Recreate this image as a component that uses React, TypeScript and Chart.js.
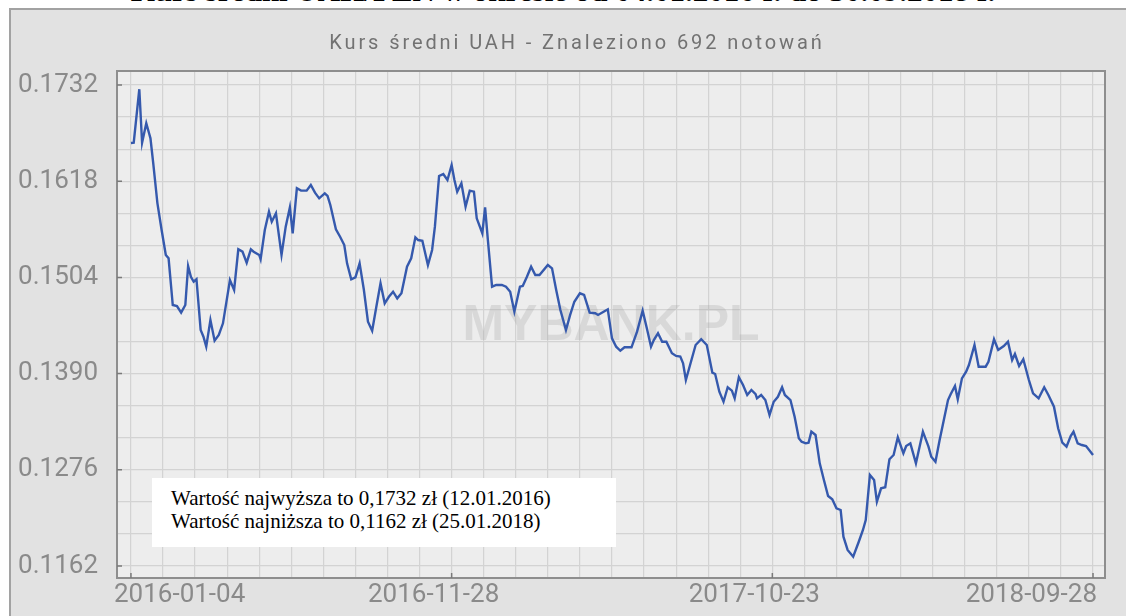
import React, { useEffect, useRef } from 'react';
import { Chart, registerables } from 'chart.js';

Chart.register(...registerables);

// ---- data ----
const pointIndex = [
  0, 2, 6, 8, 11, 13, 14, 16, 19, 22, 25, 27, 30, 33, 36, 39, 41, 43, 45, 47,
  50, 52, 54, 57, 60, 63, 66, 71, 74, 77, 80, 83, 86, 88, 92, 93, 96, 99, 101, 104,
  108, 111, 114, 116, 119, 122, 126, 129, 132, 135, 139, 141, 143, 147, 150, 153, 155, 158, 161, 164,
  167, 170, 173, 176, 179, 182, 185, 188, 191, 194, 198, 201, 204, 206, 209, 213, 216, 218, 221, 224,
  227, 230, 232, 234, 237, 240, 243, 246, 248, 252, 254, 256, 259, 262, 266, 269, 272, 275, 279, 281,
  284, 287, 290, 293, 299, 302, 305, 308, 312, 315, 318, 322, 325, 329, 333, 335, 339, 342, 345, 348,
  351, 354, 359, 363, 367, 370, 373, 375, 378, 381, 384, 388, 391, 394, 396, 398, 401, 405, 409, 413,
  417, 419, 422, 425, 428, 431, 433, 436, 439, 442, 445, 448, 449, 452, 455, 458, 461, 464, 467, 469,
  473, 476, 479, 481, 484, 486, 488, 491, 494, 497, 500, 503, 506, 509, 511, 514, 518, 522, 525, 527,
  530, 533, 535, 538, 541, 544, 547, 550, 554, 556, 559, 563, 568, 572, 574, 577, 580, 583, 586, 588,
  591, 593, 596, 599, 601, 605, 608, 613, 615, 619, 622, 626, 629, 632, 634, 637, 640, 644, 647, 651,
  655, 658, 662, 665, 668, 671, 674, 676, 679, 682, 685, 690,
];

const rateValues = [
  0.16633, 0.16636, 0.1727, 0.16636, 0.16866, 0.16748, 0.16688, 0.16392, 0.15918, 0.15602, 0.15306, 0.15266, 0.14713, 0.14701, 0.14622, 0.14713, 0.15175, 0.15048, 0.14989, 0.15018,
  0.14417, 0.14337, 0.14219, 0.14535, 0.1429, 0.14358, 0.14496, 0.15009, 0.14891, 0.15373, 0.15345, 0.15214, 0.15373, 0.15345, 0.15306, 0.15255, 0.15602, 0.15819, 0.157, 0.158,
  0.15306, 0.15641, 0.15871, 0.15563, 0.16096, 0.16068, 0.16068, 0.16135, 0.16044, 0.15977, 0.16037, 0.16005, 0.15898, 0.1561, 0.15522, 0.15424, 0.15207, 0.15018, 0.15041, 0.15207,
  0.149, 0.14515, 0.14408, 0.14693, 0.1497, 0.14733, 0.14811, 0.14871, 0.14792, 0.14852, 0.15167, 0.15266, 0.15515, 0.15483, 0.15475, 0.15187, 0.15365, 0.15641, 0.16242, 0.16265,
  0.16194, 0.16372, 0.16194, 0.16056, 0.16155, 0.15878, 0.16068, 0.16056, 0.1574, 0.15563, 0.15871, 0.15483, 0.1493, 0.1495, 0.1495, 0.1493, 0.14871, 0.14634, 0.1493, 0.14938,
  0.15048, 0.15167, 0.15069, 0.15069, 0.15187, 0.15148, 0.14891, 0.14654, 0.14417, 0.14595, 0.14752, 0.14852, 0.14832, 0.14622, 0.14615, 0.14595, 0.14634, 0.14662, 0.14318, 0.14219,
  0.14171, 0.14212, 0.14212, 0.14397, 0.14645, 0.14437, 0.14219, 0.14298, 0.14378, 0.14278, 0.14278, 0.14141, 0.14109, 0.14101, 0.14022, 0.13824, 0.14002, 0.14239, 0.14307, 0.14239,
  0.13911, 0.13895, 0.13686, 0.13567, 0.13738, 0.13698, 0.13607, 0.13856, 0.13765, 0.13647, 0.13706, 0.13658, 0.13607, 0.13647, 0.13587, 0.1341, 0.13567, 0.13626, 0.13738, 0.13647,
  0.13587, 0.13389, 0.13133, 0.13093, 0.13074, 0.13081, 0.13212, 0.13173, 0.12837, 0.12639, 0.1245, 0.12411, 0.12304, 0.12284, 0.11967, 0.1181, 0.1173, 0.11908, 0.12047, 0.12165,
  0.12699, 0.12639, 0.12382, 0.12541, 0.12553, 0.12885, 0.12936, 0.13145, 0.12956, 0.13042, 0.13074, 0.12837, 0.13212, 0.13034, 0.12915, 0.12856, 0.13113, 0.1335, 0.13587, 0.13658,
  0.13753, 0.13596, 0.13844, 0.13923, 0.14002, 0.14239, 0.13982, 0.13982, 0.14041, 0.14307, 0.1418, 0.14227, 0.14278, 0.14061, 0.14132, 0.1399, 0.1407, 0.13824, 0.13667, 0.13607,
  0.13738, 0.13647, 0.13508, 0.13252, 0.13081, 0.13034, 0.13161, 0.13212, 0.13074, 0.13054, 0.13042, 0.12936,
];

const xTickIndex = [0, 230, 460, 690];
const xTickLabels = ['2016-01-04', '2016-11-28', '2017-10-23', '2018-09-28'];
const yTickValues = [0.1162, 0.1276, 0.139, 0.1504, 0.1618, 0.1732];
const yTickLabels = ['0.1162', '0.1276', '0.1390', '0.1504', '0.1618', '0.1732'];

const chartTitle = 'Kurs średni UAH - Znaleziono 692 notowań';
const pageTitle = 'Kurs średni UAH/PLN w okresie od 04.01.2016 r. do 30.09.2018 r.';
const noteLines = [
  'Wartość najwyższa to 0,1732 zł (12.01.2016)',
  'Wartość najniższa to 0,1162 zł (25.01.2018)',
];
const watermarkText = 'MYBANK.PL';

const X_GRID_STEP = 23;
const Y_SUBDIV = 3;

const decorPlugin = {
  id: 'decor',
  beforeDraw(chart: any) {
    const { ctx, chartArea: a } = chart;
    ctx.save();
    ctx.fillStyle = '#ededed';
    ctx.fillRect(a.left, a.top, a.right - a.left, a.bottom - a.top);
    ctx.restore();
  },
  beforeDatasetsDraw(chart: any) {
    const { ctx, chartArea: a } = chart;
    ctx.save();
    ctx.font = 'bold 50px "Liberation Sans", Arial, sans-serif';
    ctx.fillStyle = 'rgba(160,160,160,0.26)';
    ctx.textAlign = 'center';
    ctx.textBaseline = 'middle';
    ctx.fillText(watermarkText, (a.left + a.right) / 2, (a.top + a.bottom) / 2 + 2);
    ctx.restore();
  },
  afterDraw(chart: any) {
    const { ctx, chartArea: a, scales } = chart;
    const xs = scales.x;
    const ys = scales.y;
    ctx.save();
    // plot border
    ctx.strokeStyle = '#8e8e8e';
    ctx.lineWidth = 2;
    ctx.strokeRect(a.left, a.top, a.right - a.left, a.bottom - a.top);
    // small tick marks
    ctx.strokeStyle = '#7a7a7a';
    ctx.lineWidth = 1.5;
    ctx.beginPath();
    yTickValues.forEach((v) => {
      const py = ys.getPixelForValue(v);
      ctx.moveTo(a.left, py);
      ctx.lineTo(a.left + 5, py);
    });
    xTickIndex.forEach((v) => {
      const px = xs.getPixelForValue(v);
      ctx.moveTo(px, a.bottom);
      ctx.lineTo(px, a.bottom - 5);
    });
    ctx.stroke();
    // x labels
    ctx.font = '26px Roboto, sans-serif';
    ctx.fillStyle = '#8a8a8a';
    ctx.textBaseline = 'middle';
    ctx.textAlign = 'left';
    xTickIndex.forEach((v, i) => {
      const px = xs.getPixelForValue(v);
      const w = ctx.measureText(xTickLabels[i]).width;
      let left = px - 18 - w / 2;
      if (left < a.left - 3) left = a.left - 3;
      if (left + w > a.right - 8) left = a.right - 8 - w;
      ctx.fillText(xTickLabels[i], left, a.bottom + 17);
    });
    // chart title
    ctx.font = '20px Roboto, sans-serif';
    ctx.fillStyle = '#727272';
    ctx.textAlign = 'center';
    try { (ctx as any).letterSpacing = '2.9px'; } catch (e) {}
    ctx.fillText(chartTitle, 577, 44);
    ctx.restore();
  },
};

export default function App() {
  const canvasRef = useRef<HTMLCanvasElement | null>(null);

  useEffect(() => {
    const canvas = canvasRef.current;
    if (!canvas) return;
    const xGrid: { value: number }[] = [];
    for (let v = 0; v <= xTickIndex[xTickIndex.length - 1]; v += X_GRID_STEP) xGrid.push({ value: v });
    const yGrid: { value: number }[] = [];
    for (let i = 0; i < yTickValues.length; i++) {
      yGrid.push({ value: yTickValues[i] });
      if (i < yTickValues.length - 1) {
        const step = (yTickValues[i + 1] - yTickValues[i]) / Y_SUBDIV;
        for (let k = 1; k < Y_SUBDIV; k++) yGrid.push({ value: yTickValues[i] + k * step });
      }
    }
    const chart = new Chart(canvas, {
      type: 'line',
      data: {
        datasets: [
          {
            data: pointIndex.map((x, i) => ({ x, y: rateValues[i] })),
            borderColor: '#3559ad',
            borderWidth: 2.4,
            pointRadius: 0,
            tension: 0,
            fill: false,
          },
        ],
      },
      options: {
        animation: false,
        responsive: false,
        layout: { padding: { top: 71, right: 21, bottom: 0, left: 0 } },
        plugins: {
          legend: { display: false },
          title: { display: false },
          tooltip: { enabled: false },
        },
        scales: {
          x: {
            type: 'linear',
            min: -10,
            max: 698.6,
            afterBuildTicks: (s: any) => { s.ticks = xGrid.map((t) => ({ ...t })); },
            afterFit: (s: any) => { s.height = 38; },
            ticks: { display: false, autoSkip: false },
            grid: { color: '#d3d3d3', lineWidth: 1.2, drawTicks: false },
            border: { display: false },
          },
          y: {
            type: 'linear',
            min: 0.11478,
            max: 0.17486,
            afterBuildTicks: (s: any) => { s.ticks = yGrid.map((t) => ({ ...t })); },
            afterFit: (s: any) => { s.width = 117; },
            ticks: {
              autoSkip: false,
              padding: 19,
              color: '#8a8a8a',
              font: { family: 'Roboto', size: 26 },
              callback: (_v: any, index: number) =>
                index % Y_SUBDIV === 0 ? yTickLabels[index / Y_SUBDIV] : '',
            },
            grid: { color: '#d3d3d3', lineWidth: 1.2, drawTicks: false },
            border: { display: false },
          },
        },
      },
      plugins: [decorPlugin],
    });
    return () => chart.destroy();
  }, []);

  return (
    <div style={{ position: 'absolute', left: 0, top: 0, width: 1126, height: 616, overflow: 'hidden', background: '#ffffff' }}>
      <div
        style={{
          position: 'absolute', left: 0, width: 1126, top: -25, textAlign: 'center',
          font: 'bold 31px "Liberation Serif", "Times New Roman", serif', lineHeight: '31px',
          whiteSpace: 'nowrap', color: '#000',
        }}
      >
        {pageTitle}
      </div>
      <div
        style={{
          position: 'absolute', left: 9, top: 8, width: 1140, height: 640, boxSizing: 'border-box',
          background: '#e2e2e2', border: '2px solid #a2a2a2',
        }}
      />
      <canvas ref={canvasRef} width={1126} height={616} style={{ position: 'absolute', left: 0, top: 0 }} />
      <div
        style={{
          position: 'absolute', left: 152, top: 478, width: 464, height: 69, background: '#ffffff',
          boxSizing: 'border-box', paddingLeft: 19, paddingTop: 9,
          font: '21px "Liberation Serif", "Times New Roman", serif', lineHeight: '23px', color: '#000',
          whiteSpace: 'nowrap',
        }}
      >
        {noteLines.map((l) => (
          <div key={l}>{l}</div>
        ))}
      </div>
    </div>
  );
}
